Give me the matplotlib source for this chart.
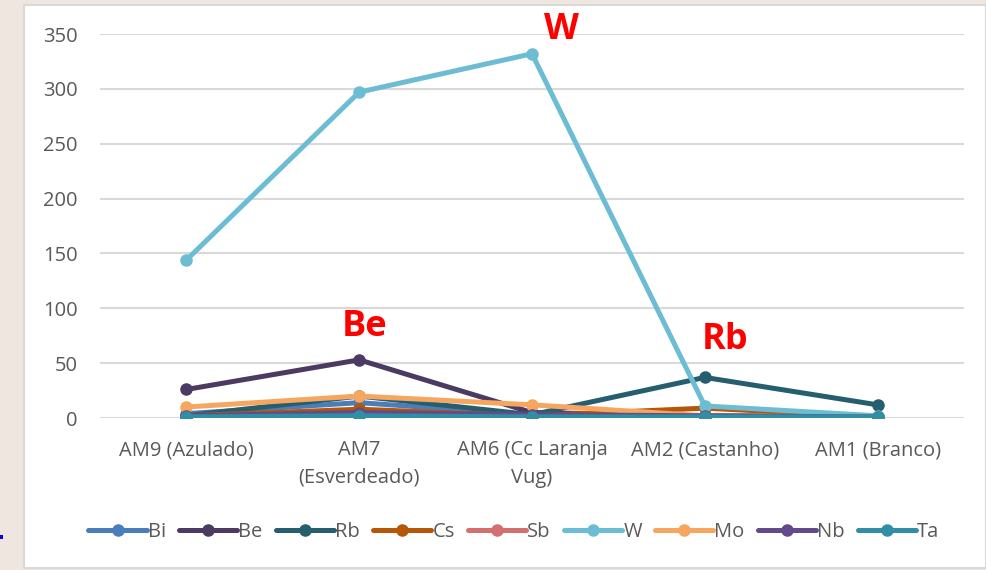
"""Teores por amostra - gráfico de linhas."""
import matplotlib.pyplot as plt
import matplotlib.patches as mpatches

plt.rcParams['font.family'] = ['Open Sans', 'DejaVu Sans']

AMOSTRAS = [
    "AM9 (Azulado)",
    "AM7\n(Esverdeado)",
    "AM6 (Cc Laranja\nVug)",
    "AM2 (Castanho)",
    "AM1 (Branco)",
]

ELEMENTOS = ["Bi", "Be", "Rb", "Cs", "Sb", "W", "Mo", "Nb", "Ta"]

bi = [4, 14, 3, 2, 1]
be = [26, 53, 5, 2, 1]
rb = [2, 20, 3, 37, 12]
cs = [2, 8, 2, 9, 1]
sb = [1, 3, 1, 1, 1]
w = [144, 297, 332, 11, 2]
mo = [10, 20, 12, 2, 1]
nb = [2, 5, 3, 2, 1]
ta = [1, 2, 1, 1, 1]

SERIES = [bi, be, rb, cs, sb, w, mo, nb, ta]

CORES = [
    "#4A7EBB", "#4B3A62", "#255E6E", "#B65708", "#D36F6E",
    "#6CBDD3", "#F7A65F", "#634A8A", "#318FA5",
]

# etiquetas a vermelho (elemento, x, y)
DESTAQUES = [("W", 2.17, 354), ("Be", 1.03, 83), ("Rb", 3.12, 71)]

fig = plt.figure(figsize=(9.86, 5.70), dpi=100)
fig.patch.set_facecolor("#EFE7DF")

# fundo branco da área do gráfico
fig.add_artist(mpatches.Rectangle(
    (24 / 986, 2 / 570), 962 / 986, 563 / 570,
    transform=fig.transFigure, facecolor="white",
    edgecolor="#D9D9D9", linewidth=1.5, zorder=0
))
# pequeno traço azul à esquerda
fig.add_artist(mpatches.Rectangle(
    (0, 31 / 570), 3 / 986, 4 / 570,
    transform=fig.transFigure, facecolor="#0000EE",
    edgecolor="none", zorder=1
))

ax = fig.add_axes([100 / 986, 1 - 418 / 570, 864 / 986, 384 / 570])
ax.set_facecolor("none")

x = list(range(len(AMOSTRAS)))
for nome, vals, cor in zip(ELEMENTOS, SERIES, CORES):
    ax.plot(x, vals, color=cor, linewidth=3.6, marker="o",
            markersize=8, label=nome, solid_capstyle="round", zorder=3)

ax.set_xlim(-0.5, 4.5)
ax.set_ylim(0, 350)
ax.set_yticks(range(0, 351, 50))
ax.set_xticks(x)
ax.set_xticklabels(AMOSTRAS, linespacing=1.5)
ax.grid(axis="y", color="#D9D9D9", linewidth=1.5, zorder=0)
ax.set_axisbelow(True)
for s in ax.spines.values():
    s.set_visible(False)
ax.tick_params(length=0, labelsize=14.5, labelcolor="#595959")
ax.tick_params(axis="x", pad=16)
ax.tick_params(axis="y", pad=16)

for rotulo, xx, yy in DESTAQUES:
    ax.text(xx, yy, rotulo, color="red", fontsize=26, fontweight="bold",
            ha="center", va="center", clip_on=False)

leg = fig.legend(
    loc="center", bbox_to_anchor=(514 / 986, 1 - 532 / 570), ncol=9,
    frameon=False, fontsize=14.5, handlelength=2.9, handletextpad=0.05,
    columnspacing=0.65, labelcolor="#595959"
)

fig.savefig("out.png", dpi=100, facecolor=fig.get_facecolor())
